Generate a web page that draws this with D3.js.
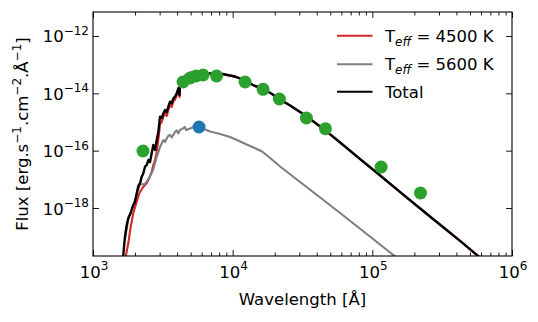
<!DOCTYPE html>
<html><head><meta charset="utf-8">
<script src="https://cdn.jsdelivr.net/npm/d3@7"></script>
<style>body{margin:0;background:#fff}text{font-family:"DejaVu Sans",sans-serif;fill:#000}</style>
</head><body><svg id="c" width="538" height="322"></svg>
<script>
// ---- data ----
const xTicks = [1e3, 1e4, 1e5, 1e6];
const xTickExp = ["3", "4", "5", "6"];
const yTicks = [1e-12, 1e-14, 1e-16, 1e-18];
const yTickExp = ["\u221212", "\u221214", "\u221216", "\u221218"];
const seriesNames = ["4500 K", "5600 K", "Total"];

const wlRed = [1695,1723,1790,1862,1944,2056,2146,2293,2425,2531,2633,2703,2780,2860,2937,3020,3105,3190,3280,3373,3463,3562,3662,3760,3867,3977,4083,4167,4200,4318,4413,4637,4953,5379,5842,6343,6890,7482,8124,8824,9580,10400,11300,12270,13320,14470,15710,17070,19150,21860,25800,30400,35800,42300,49900,58800,81800,113800,158300,220000,306000,425000,573000,643000];
const fluxRed = [1.3e-20,2.3e-20,6.0e-20,2.23e-19,6.7e-19,1.66e-18,3.26e-18,5.55e-18,7.3e-18,1.11e-17,1.85e-17,3.16e-17,4.73e-17,9.0e-17,2.36e-16,8.5e-16,1.0e-15,1.5e-15,2.06e-15,1.62e-15,2.62e-15,3.92e-15,3.33e-15,5.2e-15,6.1e-15,8.4e-15,1.31e-14,7.45e-15,1.66e-14,2.59e-14,3.16e-14,4.3e-14,5.0e-14,5.4e-14,5.4e-14,5.0e-14,4.85e-14,4.7e-14,4.85e-14,4.5e-14,4.15e-14,3.83e-14,3.27e-14,2.67e-14,2.19e-14,1.79e-14,1.59e-14,1.3e-14,9.45e-15,6.07e-15,3.75e-15,2.23e-15,1.265e-15,6.97e-16,3.69e-16,1.92e-16,5.08e-17,1.355e-17,3.59e-18,9.57e-19,2.59e-19,7.08e-20,2.09e-20,1.3e-20];

const wlGray = [1700,1791,1923,2056,2171,2358,2518,2691,2860,3020,3190,3280,3373,3463,3562,3662,3867,3977,4083,4200,4413,4560,4637,4953,5379,5744,6890,8124,9580,11300,13320,16240,18530,21860,30400,42280,58800,91300,145700,163500];
const fluxGray = [9.0e-20,4.2e-19,1.05e-18,2.9e-18,6.6e-18,6.9e-18,1.11e-17,2.12e-17,6.0e-17,1.34e-16,2.36e-16,2.0e-16,2.66e-16,3.3e-16,3.5e-16,2.9e-16,4.5e-16,5.1e-16,4.0e-16,5.3e-16,6.0e-16,6.7e-16,5.2e-16,5.9e-16,7.0e-16,6.7e-16,4.67e-16,3.8e-16,3.0e-16,2.09e-16,1.46e-16,9.35e-17,5.56e-17,2.8e-17,8.1e-18,2.33e-18,6.7e-19,1.24e-19,2.04e-20,1.31e-20];

const wlTotal = [1640,1648,1694,1743,1791,1862,1923,2000,2056,2111,2171,2234,2293,2358,2425,2490,2560,2633,2703,2780,2860,2937,3020,3105,3190,3280,3373,3463,3562,3662,3760,3867,3977,4083,4167,4200,4318,4413,4637,4953,5379,5842,6343,6890,7482,8124,8824,9580,10400,11300,12270,13320,14470,15710,17070,19150,21860,25800,30400,35800,42300,49900,58800,81800,113800,158300,220000,306000,425000,573000,643000];
const fluxTotal = [1.3e-20,2.3e-20,1.0e-19,2.57e-19,4.5e-19,6.7e-19,1.12e-18,1.67e-18,3.26e-18,5.9e-18,7.3e-18,1.24e-17,1.63e-17,2.76e-17,3.16e-17,4.73e-17,4.0e-17,8.3e-17,1.58e-16,1.06e-16,2.36e-16,4.6e-16,1.53e-15,1.38e-15,2.01e-15,2.62e-15,2.23e-15,3.42e-15,5.1e-15,4.49e-15,6.7e-15,7.6e-15,1.0e-14,1.5e-14,8.75e-15,1.95e-14,2.92e-14,3.43e-14,4.37e-14,5.1e-14,5.5e-14,5.5e-14,5.1e-14,4.9e-14,4.73e-14,4.9e-14,4.54e-14,4.19e-14,3.86e-14,3.29e-14,2.69e-14,2.2e-14,1.8e-14,1.6e-14,1.31e-14,9.5e-15,6.1e-15,3.77e-15,2.24e-15,1.27e-15,7.0e-16,3.7e-16,1.93e-16,5.1e-17,1.36e-17,3.6e-18,9.6e-19,2.6e-19,7.1e-20,2.1e-20,1.3e-20];

const wlPhot = [2280,4413,4953,5466,6137,7667,12270,16510,21600,33730,46130,115600,221200];
const fluxPhot = [9.75e-17,2.49e-14,3.43e-14,4.03e-14,4.37e-14,4.03e-14,2.49e-14,1.38e-14,6.35e-15,1.38e-15,5.85e-16,2.7e-17,3.34e-18];
const wlBlue = [5744];
const fluxBlue = [6.7e-16];

// ---- chart ----
const L = 93, R = 512, T = 12, B = 256;
const FS = 16.5, SUP = 12;
const svg = d3.select("#c");
const x = d3.scaleLog().domain([1e3, 1e6]).range([L, R]);
const y = d3.scaleLog().domain([Math.pow(10, -19.674), Math.pow(10, -11.163)]).range([B, T]);

svg.append("defs").append("clipPath").attr("id", "clip")
  .append("rect").attr("x", L).attr("y", T).attr("width", R - L).attr("height", B - T);

const plot = svg.append("g").attr("clip-path", "url(#clip)");
const line = d3.line().x(d => x(d[0])).y(d => y(d[1]));
const zip = (a, b) => a.map((v, i) => [v, b[i]]);

const series = [
  {wl: wlRed, fl: fluxRed, color: "#d62728", w: 2.1},
  {wl: wlGray, fl: fluxGray, color: "#7f7f7f", w: 2.1},
  {wl: wlTotal, fl: fluxTotal, color: "#000000", w: 2.4}
];
series.forEach(s => {
  plot.append("path").datum(zip(s.wl, s.fl)).attr("d", line)
    .attr("fill", "none").attr("stroke", s.color).attr("stroke-width", s.w)
    .attr("stroke-linejoin", "round");
});
plot.selectAll("circle.g").data(zip(wlPhot, fluxPhot)).join("circle")
  .attr("cx", d => x(d[0])).attr("cy", d => y(d[1])).attr("r", 6.5).attr("fill", "#2ca02c");
plot.selectAll("circle.b").data(zip(wlBlue, fluxBlue)).join("circle")
  .attr("cx", d => x(d[0])).attr("cy", d => y(d[1])).attr("r", 6.5).attr("fill", "#1f77b4");

// ticks
const xMinor = [];
for (let e = 3; e < 6; e++) for (let k = 2; k <= 9; k++) xMinor.push(k * Math.pow(10, e));
function addAxis(axisFn, scale, vals, size, transform) {
  const g = svg.append("g").attr("transform", transform)
    .call(axisFn(scale).tickValues(vals).tickSize(size).tickFormat(""));
  g.select(".domain").remove();
  g.selectAll("line").attr("stroke", "#000").attr("stroke-width", 0.9);
}
addAxis(d3.axisBottom, x, xTicks, -6, `translate(0,${B})`);
addAxis(d3.axisBottom, x, xMinor, -3.5, `translate(0,${B})`);
addAxis(d3.axisTop, x, xTicks, -6, `translate(0,${T})`);
addAxis(d3.axisTop, x, xMinor, -3.5, `translate(0,${T})`);
addAxis(d3.axisLeft, y, yTicks, -6, `translate(${L},0)`);
addAxis(d3.axisRight, y, yTicks, -6, `translate(${R},0)`);

svg.append("rect").attr("x", L).attr("y", T).attr("width", R - L).attr("height", B - T)
  .attr("fill", "none").attr("stroke", "#000").attr("stroke-width", 1.1);

// tick labels
xTicks.forEach((v, i) => {
  const t = svg.append("text").attr("x", x(v) + 1).attr("y", 277.5).attr("text-anchor", "middle").attr("font-size", FS);
  t.append("tspan").text("10");
  t.append("tspan").attr("font-size", SUP).attr("dy", -7.5).text(xTickExp[i]);
});
yTicks.forEach((v, i) => {
  const t = svg.append("text").attr("x", 89).attr("y", y(v) + 6.5).attr("text-anchor", "end").attr("font-size", FS);
  t.append("tspan").text("10");
  t.append("tspan").attr("font-size", SUP).attr("dy", -7.5).text(yTickExp[i]);
});

// axis labels
svg.append("text").attr("x", (L + R) / 2).attr("y", 304.5).attr("text-anchor", "middle")
  .attr("font-size", FS).text("Wavelength [\u00c5]");
const yl = svg.append("text").attr("transform", `translate(28,${(T + B) / 2}) rotate(-90)`)
  .attr("text-anchor", "middle").attr("font-size", FS);
yl.append("tspan").text("Flux [erg.s");
yl.append("tspan").attr("font-size", SUP).attr("dy", -7).text("\u22121");
yl.append("tspan").attr("dy", 7).text(".cm");
yl.append("tspan").attr("font-size", SUP).attr("dy", -7).text("\u22122");
yl.append("tspan").attr("dy", 7).text(".\u00c5");
yl.append("tspan").attr("font-size", SUP).attr("dy", -7).text("\u22121");
yl.append("tspan").attr("dy", 7).text("]");

// legend
const legY = [35.7, 64.3, 91.7];
series.forEach((s, i) => {
  svg.append("line").attr("x1", 337).attr("x2", 372.5).attr("y1", legY[i]).attr("y2", legY[i])
    .attr("stroke", s.color).attr("stroke-width", 2.1);
  const t = svg.append("text").attr("x", 385).attr("y", legY[i] + 6).attr("font-size", FS);
  if (i < 2) {
    t.append("tspan").text("T");
    t.append("tspan").attr("font-size", SUP).attr("font-style", "italic").attr("dy", 4).text("eff");
    t.append("tspan").attr("dy", -4).text(" = " + seriesNames[i]);
  } else {
    t.text(seriesNames[i]);
  }
});
</script></body></html>
